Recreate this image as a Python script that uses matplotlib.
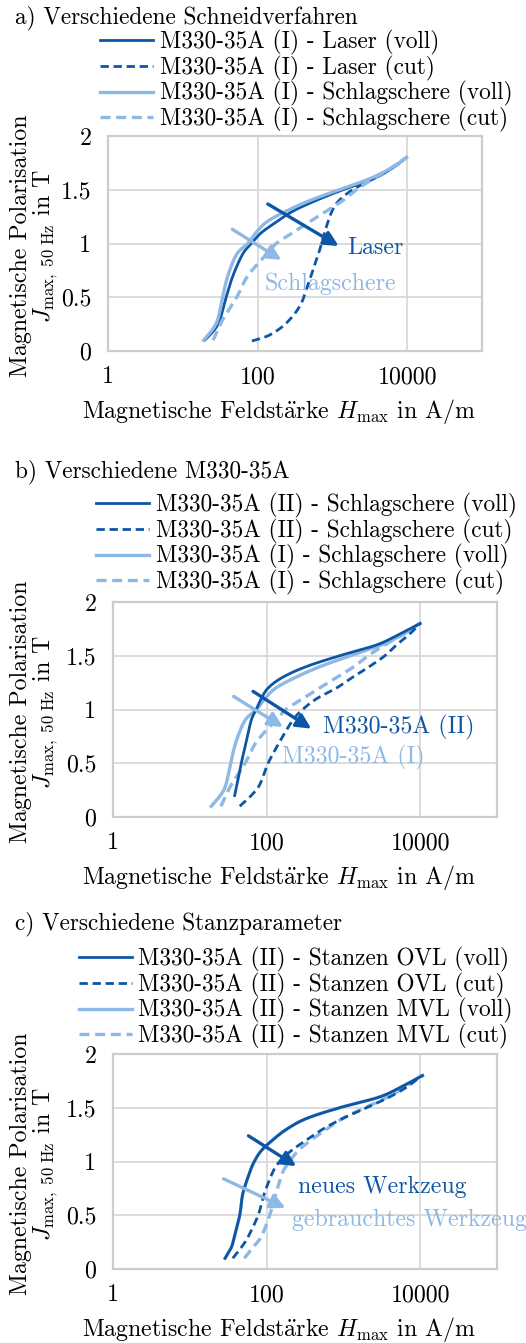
import matplotlib
matplotlib.use("Agg")
import numpy as np
import matplotlib.pyplot as plt

plt.rcParams['font.family'] = ['cmr10', 'DejaVu Serif']
plt.rcParams['mathtext.fontset'] = 'cm'
plt.rcParams['axes.unicode_minus'] = False

DARK = '#0D56A6'
LIGHT = '#8EB8E5'
FS = 17.2
FS_LEG = 16.8

# --- a) Schneidverfahren, M330-35A (I)
laser_voll_J = [0.1, 0.2, 0.3, 0.5, 0.7, 0.9, 1.0, 1.1, 1.2, 1.3, 1.4, 1.5, 1.6, 1.7, 1.8]
laser_voll_H = [19.6, 26.7, 31.6, 38, 46.8, 63, 82.4, 112, 178, 295, 603, 1380, 3470, 6310, 9770]
laser_cut_J = [0.093, 0.149, 0.257, 0.412, 0.567, 0.753, 0.94, 1.157, 1.31, 1.40, 1.5, 1.6, 1.7, 1.8]
laser_cut_H = [84, 145, 240, 363, 447, 550, 676, 832, 1000, 1230, 1860, 3470, 6030, 9770]
schl1_voll_J = [0.1, 0.2, 0.3, 0.5, 0.7, 0.9, 1.0, 1.1, 1.2, 1.3, 1.4, 1.5, 1.6, 1.7, 1.8]
schl1_voll_H = [19, 25, 29.5, 34, 40, 52.5, 74, 95, 132, 240, 500, 1230, 3090, 6030, 9770]
schl1_cut_J = [0.1, 0.2, 0.3, 0.5, 0.7, 0.9, 1.0, 1.1, 1.2, 1.3, 1.4, 1.5, 1.6, 1.7, 1.8]
schl1_cut_H = [25.4, 29.5, 34.7, 52.5, 74, 132, 178, 295, 490, 830, 1380, 2090, 3470, 6030, 9770]

# --- b) M330-35A (II), Schlagschere
schl2_voll_J = [0.2, 0.5, 0.7, 0.9, 1.0, 1.1, 1.2, 1.3, 1.4, 1.5, 1.6, 1.7, 1.8]
schl2_voll_H = [38.4, 46.8, 54.3, 63.1, 73.3, 85.1, 104.7, 162, 331, 891, 2690, 5370, 10000]
schl2_cut_J = [0.1, 0.2, 0.3, 0.5, 0.7, 0.9, 1.0, 1.1, 1.2, 1.3, 1.4, 1.5, 1.6, 1.7, 1.8]
schl2_cut_H = [44.7, 63.1, 81.3, 104.7, 148, 219, 295, 447, 813, 1318, 2188, 3467, 4898, 7244, 10000]

# --- c) Stanzen, M330-35A (II)
ovl_voll_J = [0.1, 0.2, 0.3, 0.5, 0.7, 0.9, 1.0, 1.1, 1.2, 1.3, 1.4, 1.5, 1.6, 1.7, 1.8]
ovl_voll_H = [28.8, 34.7, 38, 44.7, 49, 60.3, 69.2, 85.1, 120, 182, 331, 891, 2951, 5888, 10715]
ovl_cut_J = [0.1, 0.2, 0.3, 0.5, 0.7, 0.9, 1.0, 1.1, 1.2, 1.3, 1.4, 1.5, 1.6, 1.7, 1.8]
ovl_cut_H = [36.3, 46.8, 57.5, 77.6, 93.3, 120, 148, 209, 331, 537, 977, 1995, 3981, 6918, 10233]
mvl_voll_J = [0.1, 0.2, 0.3, 0.5, 0.7, 0.9, 1.0, 1.1, 1.2, 1.3, 1.4, 1.5, 1.6, 1.7, 1.8]
mvl_voll_H = [28.8, 34.7, 38, 44.7, 49, 60.3, 69.2, 85.1, 120, 182, 331, 891, 2951, 5888, 10715]
mvl_cut_J = [0.1, 0.2, 0.3, 0.5, 0.7, 0.9, 1.0, 1.1, 1.2, 1.3, 1.4, 1.5, 1.6, 1.7, 1.8]
mvl_cut_H = [51.3, 66.1, 85.1, 109.6, 131.8, 162.2, 199.5, 257, 380, 603, 977, 1905, 3802, 6607, 10965]

x_ticks = [1, 100, 10000]
x_ticklabels = ['1', '100', '10000']
y_ticks = [0, 0.5, 1, 1.5, 2]
y_ticklabels = ['0', '0.5', '1', '1.5', '2']

W, H = 526, 1343
fig = plt.figure(figsize=(W / 100, H / 100), dpi=100)


def fx(x):
    return x / W


def fy(y):
    return 1 - y / H


def smooth(Hv, J, n=12):
    # Catmull-Rom through the points in (log H, J), like Excel's smoothed lines
    p = np.column_stack([np.log10(Hv), J])
    p = np.vstack([p[0], p, p[-1]])
    out = []
    t = np.linspace(0, 1, n, endpoint=False)[:, None]
    for i in range(1, len(p) - 2):
        p0, p1, p2, p3 = p[i - 1], p[i], p[i + 1], p[i + 2]
        seg = 0.5 * ((2 * p1) + (-p0 + p2) * t + (2 * p0 - 5 * p1 + 4 * p2 - p3) * t ** 2
                     + (-p0 + 3 * p1 - 3 * p2 + p3) * t ** 3)
        out.append(seg)
    out.append(p[-2][None, :])
    out = np.vstack(out)
    return 10 ** out[:, 0], out[:, 1]


def make_panel(left, top, width, title, title_y, leg_x, leg_top, series, arrows, notes):
    ax = fig.add_axes([fx(left), fy(top + 215), width / W, 215 / H])
    ax.set_xscale('log')
    ax.set_xlim(1, 1e5)
    ax.set_ylim(0, 2)
    ax.set_xticks(x_ticks, x_ticklabels, fontsize=FS)
    ax.set_yticks(y_ticks, y_ticklabels, fontsize=FS)
    ax.minorticks_off()
    ax.tick_params(length=0)
    ax.tick_params(axis='y', pad=12)
    ax.tick_params(axis='x', pad=11)
    ax.grid(True, color='#d9d9d9', lw=1.3)
    ax.set_axisbelow(True)
    for s in ax.spines.values():
        s.set_color('#cccccc')
        s.set_linewidth(1.6)
    for J, Hv, col, ls, lab, z in series:
        lw = 2.0 if col == DARK else 2.4
        kw = dict(dashes=(3, 1.7)) if ls == '--' else {}
        xs, ys = smooth(Hv, J)
        ax.plot(xs, ys, color=col, lw=lw, label=lab, zorder=z, **kw)
    for (x0, y0), (x1, y1), col in arrows:
        ax.annotate('', xy=(x1, y1), xytext=(x0, y0),
                    arrowprops=dict(arrowstyle='-|>', color=col, lw=2.4,
                                    mutation_scale=22, shrinkA=0, shrinkB=0), zorder=5)
    for x, y, txt, col in notes:
        ax.text(x, y, txt, color=col, fontsize=FS, ha='left', va='center', clip_on=False)
    ax.legend(loc='upper left', bbox_to_anchor=(fx(leg_x), fy(leg_top)),
              bbox_transform=fig.transFigure, frameon=False, fontsize=FS_LEG,
              borderpad=0, borderaxespad=0, handlelength=2.25, handletextpad=0.3,
              labelspacing=0.02)
    fig.text(fx(15), fy(title_y), title, fontsize=FS_LEG, ha='left', va='center')
    cy = top + 110
    fig.text(fx(21), fy(cy), 'Magnetische Polarisation', rotation=90, fontsize=FS,
             ha='center', va='center')
    fig.text(fx(46), fy(cy), r'$J_{\mathrm{max},\ \mathrm{50\ Hz}}$ in T', rotation=90,
             fontsize=FS, ha='center', va='center')
    fig.text(fx(279), fy(top + 215 + 61), r'Magnetische Feldst$\ddot{\mathrm{a}}$rke $H_{\mathrm{max}}$ in A/m',
             fontsize=FS, ha='center', va='center')
    return ax


make_panel(108, 136, 374, 'a) Verschiedene Schneidverfahren', 18, 100, 30,
           [(laser_voll_J, laser_voll_H, DARK, '-', 'M330-35A (I) - Laser (voll)', 2),
            (laser_cut_J, laser_cut_H, DARK, '--', 'M330-35A (I) - Laser (cut)', 2),
            (schl1_voll_J, schl1_voll_H, LIGHT, '-', 'M330-35A (I) - Schlagschere (voll)', 3),
            (schl1_cut_J, schl1_cut_H, LIGHT, '--', 'M330-35A (I) - Schlagschere (cut)', 3)],
           [((137, 1.367), (1214, 0.977), DARK), ((46, 1.132), (207, 0.847), LIGHT)],
           [(1600, 0.955, 'Laser', DARK), (124, 0.63, 'Schlagschere', LIGHT)])

make_panel(113, 602, 384, 'b) Verschiedene M330-35A', 472, 96, 493,
           [(schl2_voll_J, schl2_voll_H, DARK, '-', 'M330-35A (II) - Schlagschere (voll)', 3),
            (schl2_cut_J, schl2_cut_H, DARK, '--', 'M330-35A (II) - Schlagschere (cut)', 3),
            (schl1_voll_J, schl1_voll_H, LIGHT, '-', 'M330-35A (I) - Schlagschere (voll)', 2),
            (schl1_cut_J, schl1_cut_H, LIGHT, '--', 'M330-35A (I) - Schlagschere (cut)', 2)],
           [((66.6, 1.169), (381, 0.822), DARK), ((37.2, 1.122), (163, 0.837), LIGHT)],
           [(541, 0.837, 'M330-35A (II)', DARK), (160, 0.558, 'M330-35A (I)', LIGHT)])

make_panel(113, 1054, 384, 'c) Verschiedene Stanzparameter', 924, 79, 947,
           [(ovl_voll_J, ovl_voll_H, DARK, '-', 'M330-35A (II) - Stanzen OVL (voll)', 3),
            (ovl_cut_J, ovl_cut_H, DARK, '--', 'M330-35A (II) - Stanzen OVL (cut)', 3),
            (mvl_voll_J, mvl_voll_H, LIGHT, '-', 'M330-35A (II) - Stanzen MVL (voll)', 2),
            (mvl_cut_J, mvl_cut_H, LIGHT, '--', 'M330-35A (II) - Stanzen MVL (cut)', 2)],
           [((58, 1.239), (243, 0.957), DARK), ((27.5, 0.839), (176, 0.568), LIGHT)],
           [(257, 0.764, 'neues Werkzeug', DARK), (214, 0.453, 'gebrauchtes Werkzeug', LIGHT)])

fig.savefig('out.png', dpi=100)
